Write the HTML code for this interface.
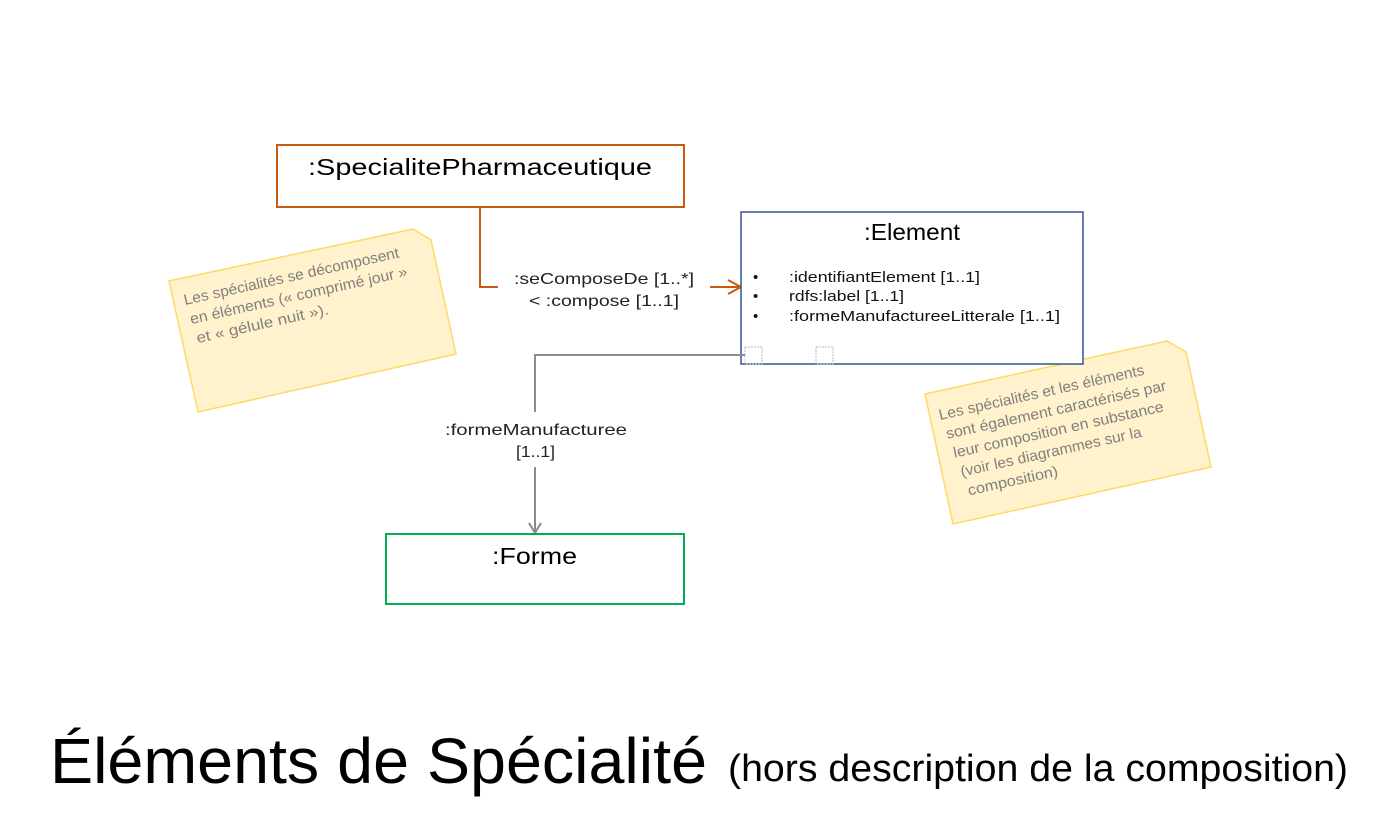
<!DOCTYPE html>
<html><head><meta charset="utf-8"><style>
html,body{margin:0;padding:0;background:#fff;}
svg{display:block;}
</style></head><body>
<svg width="1392" height="831" viewBox="0 0 1392 831" xmlns="http://www.w3.org/2000/svg" font-family="Liberation Sans, sans-serif">
<!-- Note 1 -->
<polygon points="169,281 413,229 431,240 456,354 198,412" fill="#fff2cc" stroke="#ffd966" stroke-width="1.5"/>
<g transform="rotate(-12.5 185 305)" fill="#7f7f7f" font-size="15">
<text x="185" y="305" textLength="220" lengthAdjust="spacingAndGlyphs">Les spécialités se décomposent</text>
<text x="187" y="325" textLength="222" lengthAdjust="spacingAndGlyphs">en éléments (« comprimé jour »</text>
<text x="189" y="345" textLength="135" lengthAdjust="spacingAndGlyphs">et « gélule nuit »).</text>
</g>
<!-- Note 2 -->
<polygon points="925,394 1167,341 1186,352 1211,467 953,524" fill="#fff2cc" stroke="#ffd966" stroke-width="1.5"/>
<g transform="rotate(-12.5 940 420)" fill="#7f7f7f" font-size="15">
<text x="940" y="420" textLength="210" lengthAdjust="spacingAndGlyphs">Les spécialités et les éléments</text>
<text x="943" y="440" textLength="225" lengthAdjust="spacingAndGlyphs">sont également caractérisés par</text>
<text x="946" y="460" textLength="215" lengthAdjust="spacingAndGlyphs">leur composition en substance</text>
<text x="949" y="480" textLength="185" lengthAdjust="spacingAndGlyphs">(voir les diagrammes sur la</text>
<text x="952" y="500" textLength="92" lengthAdjust="spacingAndGlyphs">composition)</text>
</g>
<!-- SpecialitePharmaceutique -->
<rect x="277" y="145" width="407" height="62" fill="#fff" stroke="#c55a11" stroke-width="2"/>
<text x="308" y="175" font-size="23" fill="#000" textLength="344" lengthAdjust="spacingAndGlyphs">:SpecialitePharmaceutique</text>
<!-- orange connector -->
<polyline points="480,207 480,287 498,287" fill="none" stroke="#c55a11" stroke-width="2"/>
<line x1="710" y1="287" x2="740" y2="287" stroke="#c55a11" stroke-width="2"/>
<polyline points="728,280 741,287 728,294" fill="none" stroke="#c55a11" stroke-width="2"/>
<text x="514" y="284" font-size="16" fill="#222" textLength="180" lengthAdjust="spacingAndGlyphs">:seComposeDe [1..*]</text>
<text x="529" y="306" font-size="16" fill="#222" textLength="150" lengthAdjust="spacingAndGlyphs">&lt; :compose [1..1]</text>
<!-- Element -->
<rect x="741" y="212" width="342" height="152" fill="#fff" stroke="#2f5597" stroke-width="1.5"/>
<text x="864" y="240" font-size="23" fill="#000" textLength="96" lengthAdjust="spacingAndGlyphs">:Element</text>
<g font-size="15" fill="#111">
<text x="753" y="282">•</text><text x="789" y="282" textLength="191" lengthAdjust="spacingAndGlyphs">:identifiantElement [1..1]</text>
<text x="753" y="301">•</text><text x="789" y="301" textLength="115" lengthAdjust="spacingAndGlyphs">rdfs:label [1..1]</text>
<text x="753" y="321">•</text><text x="789" y="321" textLength="271" lengthAdjust="spacingAndGlyphs">:formeManufactureeLitterale [1..1]</text>
</g>
<rect x="745" y="347" width="17" height="17" fill="none" stroke="#bbb" stroke-dasharray="2,1"/>
<rect x="816" y="347" width="17" height="17" fill="none" stroke="#bbb" stroke-dasharray="2,1"/>
<!-- grey connector -->
<polyline points="745,355 535,355 535,412" fill="none" stroke="#8c8c8c" stroke-width="2"/>
<line x1="535" y1="467" x2="535" y2="532" stroke="#8c8c8c" stroke-width="2"/>
<polyline points="529,523 535,533 541,523" fill="none" stroke="#8c8c8c" stroke-width="2"/>
<text x="445" y="435" font-size="16" fill="#222" textLength="182" lengthAdjust="spacingAndGlyphs">:formeManufacturee</text>
<text x="516" y="457" font-size="16" fill="#222" textLength="39" lengthAdjust="spacingAndGlyphs">[1..1]</text>
<!-- Forme -->
<rect x="386" y="534" width="298" height="70" fill="#fff" stroke="#00b050" stroke-width="2"/>
<text x="492" y="564" font-size="23" fill="#000" textLength="85" lengthAdjust="spacingAndGlyphs">:Forme</text>
<!-- Title -->
<text x="50" y="783" font-size="64" fill="#000" textLength="657" lengthAdjust="spacingAndGlyphs">Éléments de Spécialité</text>
<text x="728" y="781" font-size="38" fill="#000" textLength="620" lengthAdjust="spacingAndGlyphs">(hors description de la composition)</text>
</svg>
</body></html>
